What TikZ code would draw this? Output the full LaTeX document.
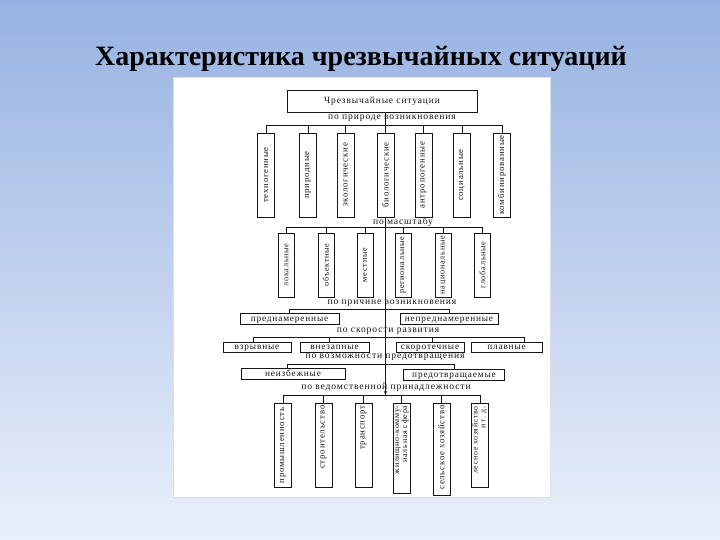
\documentclass[tikz,border=0pt]{standalone}
\usepackage{fontspec}
\usepackage{graphicx}
\setmainfont{Liberation Serif}
\newfontfamily\scanfont[LetterSpace=9]{Liberation Serif}
\usetikzlibrary{calc,arrows.meta}
\definecolor{bgtop}{HTML}{97B2E2}
\definecolor{bgbot}{HTML}{EAF0FA}
\definecolor{ink}{HTML}{151515}
\tikzset{
  vb/.style={draw=ink, fill=white, line width=0.9pt, inner sep=0pt, minimum width=17pt,
             font=\scanfont\fontsize{8.8}{8.8}\selectfont, text=ink},
  hb/.style={draw=ink, fill=white, line width=0.9pt, inner sep=0pt, minimum height=11pt,
             text height=5pt, text depth=0pt,
             font=\scanfont\fontsize{9.3}{9.3}\selectfont, text=ink},
  lab/.style={font=\scanfont\fontsize{9.6}{10}\selectfont, text=ink, inner sep=0pt},
  conn/.style={draw=ink, line width=0.6pt}
}
\begin{document}
\begin{tikzpicture}[x=1pt,y=-1pt]
\useasboundingbox (0,0) rectangle (720,540);
\shade[top color=bgtop, bottom color=bgbot] (0,0) rectangle (720,540);
\node[font=\fontsize{28}{30}\selectfont\bfseries, anchor=base, inner sep=0pt] (title) at (361,66) {Характеристика чрезвычайных ситуаций};
\filldraw[fill=white, draw=black!12] (173,77) rectangle (550,497);

% coordinates of the bus lines
\coordinate (L1) at (385.5,125);
\coordinate (L2) at (385.5,227);
\coordinate (L3) at (385.5,309);
\coordinate (L4) at (385.5,337);
\coordinate (L5) at (385.5,364);
\coordinate (L6) at (385.5,395);

% spine
\draw[conn] (385.5,112) -- (L1);
\draw[conn] (385.5,217) -- (L6);

% top box
\node[draw=ink, fill=white, line width=0.9pt, minimum width=190pt, minimum height=22pt, inner sep=0pt,
      font=\scanfont\fontsize{9.5}{10}\selectfont, text=ink] (top) at (382,101) {Чрезвычайные ситуации};

% level 1
\node[lab] (lab1) at (392,118) {по природе возникновения};
\node[vb, minimum height=84pt] (a1) at (266,175) {\rotatebox{90}{техногенные}};
\node[vb, minimum height=84pt] (a2) at (308,175) {\rotatebox{90}{природные}};
\node[vb, minimum height=84pt] (a3) at (345.5,175) {\rotatebox{90}{экологические}};
\node[vb, minimum height=84pt] (a4) at (385.5,175) {\rotatebox{90}{биологические}};
\node[vb, minimum height=84pt] (a5) at (423.5,175) {\rotatebox{90}{антропогенные}};
\node[vb, minimum height=84pt] (a6) at (462,175) {\rotatebox{90}{социальные}};
\node[vb, minimum height=84pt] (a7) at (502,175) {\rotatebox{90}{комбинированные}};
\draw[conn] (a1.north |- L1) -- (a7.north |- L1);
\foreach \n in {a1,a2,a3,a4,a5,a6,a7} \draw[conn] (\n.north) -- (\n.north |- L1);

% level 2
\node[lab] (lab2) at (403,222) {по масштабу};
\tikzset{b2/.style={vb, minimum width=16pt, minimum height=64pt, font=\scanfont\fontsize{8.2}{8.2}\selectfont}}
\node[b2] (b1) at (286.5,265) {\rotatebox{90}{локальные}};
\node[b2] (b2) at (326,265) {\rotatebox{90}{объектные}};
\node[b2] (b3) at (365,265) {\rotatebox{90}{местные}};
\node[b2] (b4) at (403,265) {\rotatebox{90}{региональные}};
\node[b2] (b5) at (443.5,265) {\rotatebox{90}{национальные}};
\node[b2] (b6) at (482.5,265) {\rotatebox{90}{глобальные}};
\draw[conn] (b1.north |- L2) -- (b6.north |- L2);
\foreach \n in {b1,b2,b3,b4,b5,b6} \draw[conn] (\n.north) -- (\n.north |- L2);

% level 3
\node[lab] (lab3) at (392,303) {по причине возникновения};
\node[hb, minimum width=99pt] (c1) at (289.5,318.5) {преднамеренные};
\node[hb, minimum width=98pt] (c2) at (449,318.5) {непреднамеренные};
\draw[conn] (c1.north |- L3) -- (c2.north |- L3);
\foreach \n in {c1,c2} \draw[conn] (\n.north) -- (\n.north |- L3);

% level 4
\node[lab] (lab4) at (388,331) {по скорости развития};
\node[hb, minimum width=68pt, minimum height=10pt] (d1) at (257,347) {взрывные};
\node[hb, minimum width=69pt, minimum height=10pt] (d2) at (334.5,347) {внезапные};
\node[hb, minimum width=68pt, minimum height=10pt] (d3) at (430,347) {скоротечные};
\node[hb, minimum width=71pt, minimum height=10pt] (d4) at (506.5,347) {плавные};
\coordinate (d1t) at ($(d1.north west)!0.45!(d1.north east)$);
\coordinate (d2t) at ($(d2.north west)!0.43!(d2.north east)$);
\coordinate (d3t) at ($(d3.north west)!0.53!(d3.north east)$);
\coordinate (d4t) at ($(d4.north west)!0.75!(d4.north east)$);
\draw[conn] (d1t |- L4) -- (d4t |- L4);
\foreach \n in {d1t,d2t,d3t,d4t} \draw[conn] (\n) -- (\n |- L4);

% level 5
\node[lab] (lab5) at (385,357) {по возможности предотвращения};
\node[hb, minimum width=104pt] (e1) at (293,374) {неизбежные};
\node[hb, minimum width=101pt] (e2) at (454,374.5) {предотвращаемые};
\coordinate (e1t) at ($(e1.north west)!0.45!(e1.north east)$);
\coordinate (e2t) at ($(e2.north west)!0.5!(e2.north east)$);
\draw[conn] (e1t |- L5) -- (e2t |- L5);
\foreach \n in {e1t,e2t} \draw[conn] (\n) -- (\n |- L5);

% level 6
\node[lab] (lab6) at (386,387) {по ведомственной принадлежности};
\draw[conn, -{Stealth[length=4pt,width=3pt]}] (385.5,380) -- (L6);
\node[vb, anchor=north, minimum height=84pt] (f1) at (283,403) {\rotatebox{90}{\makebox[80pt][c]{промышленность}}};
\node[vb, anchor=north, minimum height=84pt] (f2) at (323.5,403) {\rotatebox{90}{\makebox[80pt][r]{строительство}}};
\node[vb, anchor=north, minimum height=84pt] (f3) at (363.5,403) {\rotatebox{90}{\makebox[80pt][r]{транспорт}}};
\node[vb, anchor=north, minimum height=90pt, font=\scanfont\fontsize{8}{8}\selectfont] (f4) at (401.5,403) {\rotatebox{90}{\makebox[86pt][r]{\begin{tabular}{@{}r@{}}жилищно-комму-\\нальная сфера\end{tabular}}}};
\node[vb, anchor=north, minimum height=92pt] (f5) at (441.5,403) {\rotatebox{90}{\makebox[88pt][r]{сельское хозяйство}}};
\node[vb, anchor=north, minimum height=84pt, font=\scanfont\fontsize{7.8}{7.8}\selectfont] (f6) at (480,403) {\rotatebox{90}{\makebox[78pt][r]{\begin{tabular}{@{}r@{}}лесное хозяйство\\и т. д.\end{tabular}}}};
\draw[conn] (f1.north |- L6) -- (f6.north |- L6);
\foreach \n in {f1,f2,f3,f4,f5,f6} \draw[conn] (\n.north) -- (\n.north |- L6);
\end{tikzpicture}
\end{document}
